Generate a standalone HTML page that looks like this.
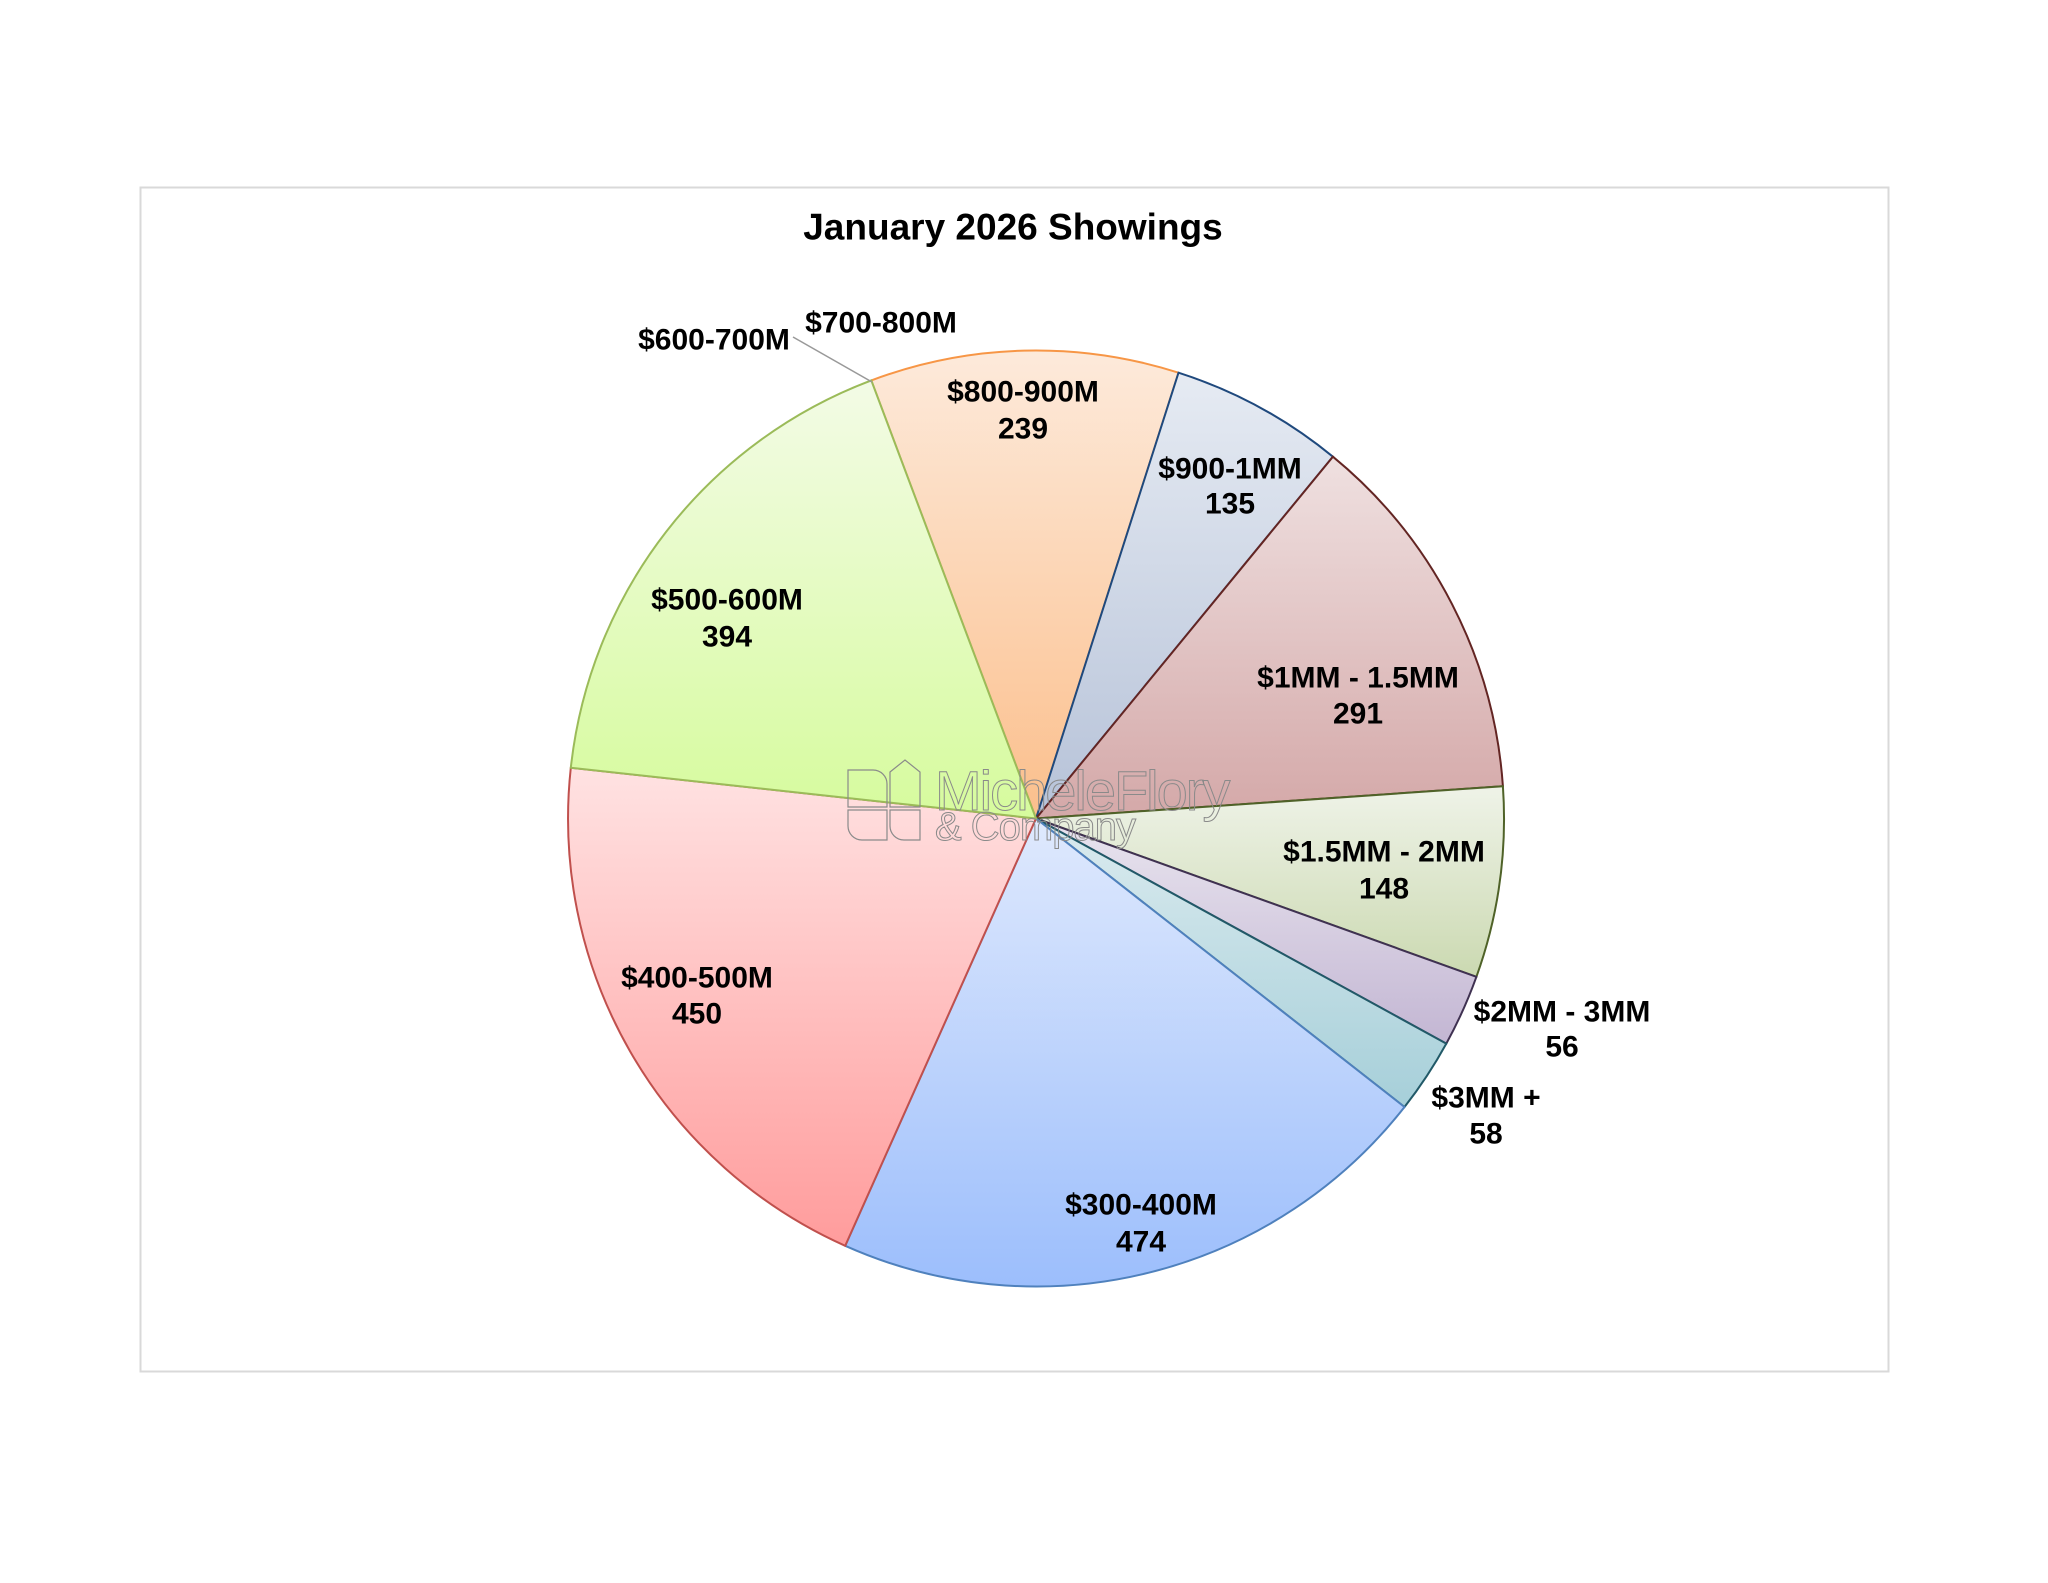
<!DOCTYPE html>
<html><head><meta charset="utf-8"><style>
html,body{margin:0;padding:0;background:#fff}
svg{display:block}
text{font-family:"Liberation Sans",Arial,sans-serif;font-weight:bold;font-size:30px;fill:#000;text-anchor:middle;dominant-baseline:central}
</style></head><body>
<svg id="s" width="2048" height="1583" viewBox="0 0 2048 1583" xmlns="http://www.w3.org/2000/svg">
<defs>
<linearGradient id="g0" x1="0" y1="0" x2="0" y2="1"><stop offset="0" stop-color="#fdeadb"/><stop offset="1" stop-color="#fbbf8c"/></linearGradient>
<linearGradient id="g1" x1="0" y1="0" x2="0" y2="1"><stop offset="0" stop-color="#e6ebf3"/><stop offset="1" stop-color="#b6c2d8"/></linearGradient>
<linearGradient id="g2" x1="0" y1="0" x2="0" y2="1"><stop offset="0" stop-color="#efe0e0"/><stop offset="1" stop-color="#d4a8a8"/></linearGradient>
<linearGradient id="g3" x1="0" y1="0" x2="0" y2="1"><stop offset="0" stop-color="#eff3e8"/><stop offset="1" stop-color="#cbd9b1"/></linearGradient>
<linearGradient id="g4" x1="0" y1="0" x2="0" y2="1"><stop offset="0" stop-color="#e9e5ef"/><stop offset="1" stop-color="#c3b6d3"/></linearGradient>
<linearGradient id="g5" x1="0" y1="0" x2="0" y2="1"><stop offset="0" stop-color="#dbebef"/><stop offset="1" stop-color="#a6cfd9"/></linearGradient>
<linearGradient id="g6" x1="0" y1="0" x2="0" y2="1"><stop offset="0" stop-color="#dfe9fd"/><stop offset="1" stop-color="#9cbefc"/></linearGradient>
<linearGradient id="g7" x1="0" y1="0" x2="0" y2="1"><stop offset="0" stop-color="#ffe2e2"/><stop offset="1" stop-color="#ff9c9c"/></linearGradient>
<linearGradient id="g8" x1="0" y1="0" x2="0" y2="1"><stop offset="0" stop-color="#f3fbe6"/><stop offset="1" stop-color="#d6fb9d"/></linearGradient>
</defs>
<rect x="140.5" y="187.5" width="1748" height="1184" fill="#fff" stroke="#d9d9d9" stroke-width="2"/>
<g id="pie"></g>
<g fill="none" stroke="#8a8a8a" stroke-width="1.2">
<text x="935" y="810" style="font-family:'Liberation Sans',sans-serif;font-weight:normal;font-size:56px;fill:none;stroke:#8a8a8a;stroke-width:1;text-anchor:start;dominant-baseline:alphabetic;letter-spacing:-2px">MicheleFlory</text>
<text x="935" y="840" style="font-family:'Liberation Sans',sans-serif;font-weight:normal;font-size:40px;fill:none;stroke:#8a8a8a;stroke-width:1;text-anchor:start;dominant-baseline:alphabetic;letter-spacing:-1px">&amp; Company</text>
<path d="M848 770 h25 a14 14 0 0 1 14 14 v23 h-39 z M890 772 l15 -12 l15 12 v35 h-30 z M848 810 h39 v30 h-25 a14 14 0 0 1 -14 -14 z M890 810 h30 v30 h-16 a14 14 0 0 1 -14 -14 z"/>
</g>
<line x1="793" y1="337" x2="872" y2="382" stroke="#999" stroke-width="1.5"/>
<text x="1013" y="227" style="font-size:37px">January 2026 Showings</text>
<text x="881" y="323">$700-800M</text>
<text x="714" y="340">$600-700M</text>
<text x="1023" y="392">$800-900M</text><text x="1023" y="429">239</text>
<text x="1230" y="469">$900-1MM</text><text x="1230" y="504">135</text>
<text x="1358" y="678">$1MM - 1.5MM</text><text x="1358" y="714">291</text>
<text x="1384" y="852">$1.5MM - 2MM</text><text x="1384" y="889">148</text>
<text x="1562" y="1012">$2MM - 3MM</text><text x="1562" y="1047">56</text>
<text x="1486" y="1098">$3MM +</text><text x="1486" y="1134">58</text>
<text x="1141" y="1205">$300-400M</text><text x="1141" y="1242">474</text>
<text x="697" y="978">$400-500M</text><text x="697" y="1014">450</text>
<text x="727" y="600">$500-600M</text><text x="727" y="637">394</text>
</svg>
<script>
var v=[239,135,291,148,56,58,474,450,394];
var st=["#f79646","#1f497d","#632523","#4f6228","#3f3151","#215968","#4f81bd","#c0504d","#9bbb59"];
var cx=1036,cy=818.5,r=468,tot=0;v.forEach(function(a){tot+=a});
var a=-20.6*Math.PI/180,h="";
function P(t){return (cx+r*Math.sin(t)).toFixed(1)+" "+(cy-r*Math.cos(t)).toFixed(1)}
for(var i=0;i<v.length;i++){var b=a+v[i]/tot*2*Math.PI;
h+='<path d="M'+cx+' '+cy+' L'+P(a)+' A'+r+' '+r+' 0 '+((b-a)>Math.PI?1:0)+' 1 '+P(b)+' Z" fill="url(#g'+i+')" stroke="'+st[i]+'" stroke-width="2"/>';a=b;}
document.getElementById("pie").innerHTML=h;
</script>
</body></html>
